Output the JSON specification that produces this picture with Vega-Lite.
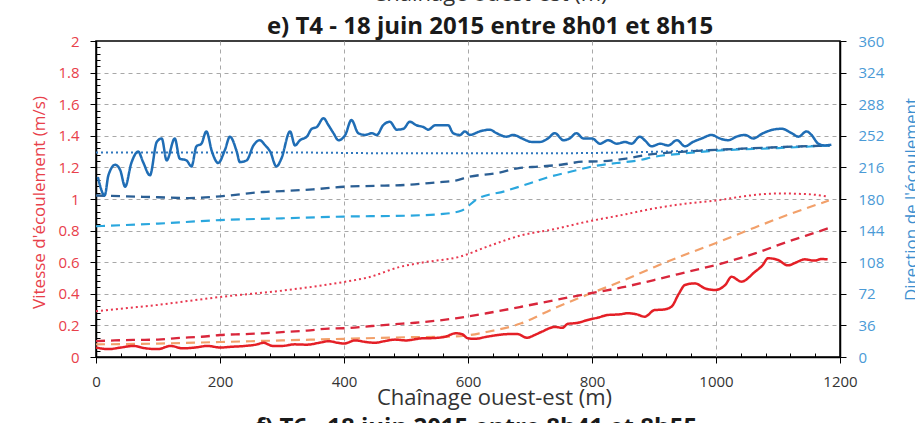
{
  "$schema": "https://vega.github.io/schema/vega-lite/v6.json",
  "width": 744,
  "height": 316,
  "autosize": "none",
  "padding": {"left": 96, "top": 41, "right": 75, "bottom": 66},
  "background": "white",
  "config": {"font": "Open Sans", "view": {"stroke": "black", "strokeWidth": 1.5}},
  "title": {"text": "Chaînage ouest-est (m)", "fontSize": 22, "fontWeight": "normal", "color": "#333333", "subtitle": "e) T4 - 18 juin 2015 entre 8h01 et 8h15", "subtitleFontSize": 24, "subtitleFontWeight": "bold", "subtitleColor": "#1a1a1a", "subtitleFont": "Open Sans", "subtitlePadding": 11, "anchor": "middle", "frame": "group", "dx": 22, "offset": -23, "baseline": "alphabetic"},
  "datasets": {
    "speed": [
      {"s": "vp", "x": 0, "v": 0.29}, {"s": "vp", "x": 50, "v": 0.31}, {"s": "vp", "x": 100, "v": 0.33}, {"s": "vp", "x": 150, "v": 0.355}, {"s": "vp", "x": 200, "v": 0.38}, {"s": "vp", "x": 250, "v": 0.4}, {"s": "vp", "x": 300, "v": 0.42}, {"s": "vp", "x": 350, "v": 0.445}, {"s": "vp", "x": 400, "v": 0.475}, {"s": "vp", "x": 440, "v": 0.505}, {"s": "vp", "x": 490, "v": 0.57}, {"s": "vp", "x": 530, "v": 0.6}, {"s": "vp", "x": 587, "v": 0.635}, {"s": "vp", "x": 632, "v": 0.7}, {"s": "vp", "x": 686, "v": 0.77}, {"s": "vp", "x": 740, "v": 0.81}, {"s": "vp", "x": 790, "v": 0.855}, {"s": "vp", "x": 850, "v": 0.9}, {"s": "vp", "x": 900, "v": 0.94}, {"s": "vp", "x": 950, "v": 0.97}, {"s": "vp", "x": 1000, "v": 0.99}, {"s": "vp", "x": 1050, "v": 1.02}, {"s": "vp", "x": 1100, "v": 1.035}, {"s": "vp", "x": 1150, "v": 1.03}, {"s": "vp", "x": 1180, "v": 1.015},
      {"s": "vo", "x": 0, "v": 0.08}, {"s": "vo", "x": 100, "v": 0.085}, {"s": "vo", "x": 200, "v": 0.095}, {"s": "vo", "x": 300, "v": 0.105}, {"s": "vo", "x": 400, "v": 0.115}, {"s": "vo", "x": 500, "v": 0.125}, {"s": "vo", "x": 580, "v": 0.13}, {"s": "vo", "x": 632, "v": 0.16}, {"s": "vo", "x": 686, "v": 0.213}, {"s": "vo", "x": 740, "v": 0.31}, {"s": "vo", "x": 793, "v": 0.395}, {"s": "vo", "x": 848, "v": 0.48}, {"s": "vo", "x": 901, "v": 0.57}, {"s": "vo", "x": 955, "v": 0.655}, {"s": "vo", "x": 1009, "v": 0.735}, {"s": "vo", "x": 1063, "v": 0.82}, {"s": "vo", "x": 1116, "v": 0.9}, {"s": "vo", "x": 1182, "v": 0.99},
      {"s": "vd", "x": 0, "v": 0.1}, {"s": "vd", "x": 30, "v": 0.105}, {"s": "vd", "x": 60, "v": 0.108}, {"s": "vd", "x": 100, "v": 0.11}, {"s": "vd", "x": 130, "v": 0.12}, {"s": "vd", "x": 170, "v": 0.128}, {"s": "vd", "x": 200, "v": 0.139}, {"s": "vd", "x": 240, "v": 0.145}, {"s": "vd", "x": 270, "v": 0.15}, {"s": "vd", "x": 310, "v": 0.16}, {"s": "vd", "x": 340, "v": 0.167}, {"s": "vd", "x": 375, "v": 0.18}, {"s": "vd", "x": 400, "v": 0.182}, {"s": "vd", "x": 445, "v": 0.196}, {"s": "vd", "x": 480, "v": 0.207}, {"s": "vd", "x": 515, "v": 0.217}, {"s": "vd", "x": 550, "v": 0.23}, {"s": "vd", "x": 580, "v": 0.245}, {"s": "vd", "x": 630, "v": 0.277}, {"s": "vd", "x": 686, "v": 0.318}, {"s": "vd", "x": 740, "v": 0.36}, {"s": "vd", "x": 793, "v": 0.4}, {"s": "vd", "x": 848, "v": 0.44}, {"s": "vd", "x": 900, "v": 0.487}, {"s": "vd", "x": 955, "v": 0.54}, {"s": "vd", "x": 1010, "v": 0.593}, {"s": "vd", "x": 1063, "v": 0.656}, {"s": "vd", "x": 1116, "v": 0.73}, {"s": "vd", "x": 1170, "v": 0.8}, {"s": "vd", "x": 1185, "v": 0.82},
      {"s": "vs", "x": 0, "v": 0.06}, {"s": "vs", "x": 20, "v": 0.05}, {"s": "vs", "x": 40, "v": 0.06}, {"s": "vs", "x": 60, "v": 0.07}, {"s": "vs", "x": 80, "v": 0.055}, {"s": "vs", "x": 100, "v": 0.05}, {"s": "vs", "x": 120, "v": 0.07}, {"s": "vs", "x": 140, "v": 0.055}, {"s": "vs", "x": 160, "v": 0.06}, {"s": "vs", "x": 180, "v": 0.07}, {"s": "vs", "x": 200, "v": 0.06}, {"s": "vs", "x": 220, "v": 0.065}, {"s": "vs", "x": 240, "v": 0.07}, {"s": "vs", "x": 260, "v": 0.08}, {"s": "vs", "x": 270, "v": 0.09}, {"s": "vs", "x": 285, "v": 0.07}, {"s": "vs", "x": 300, "v": 0.07}, {"s": "vs", "x": 320, "v": 0.08}, {"s": "vs", "x": 340, "v": 0.078}, {"s": "vs", "x": 360, "v": 0.09}, {"s": "vs", "x": 375, "v": 0.1}, {"s": "vs", "x": 390, "v": 0.09}, {"s": "vs", "x": 400, "v": 0.085}, {"s": "vs", "x": 418, "v": 0.105}, {"s": "vs", "x": 435, "v": 0.095}, {"s": "vs", "x": 450, "v": 0.09}, {"s": "vs", "x": 465, "v": 0.1}, {"s": "vs", "x": 482, "v": 0.11}, {"s": "vs", "x": 500, "v": 0.105}, {"s": "vs", "x": 525, "v": 0.118}, {"s": "vs", "x": 545, "v": 0.12}, {"s": "vs", "x": 563, "v": 0.128}, {"s": "vs", "x": 580, "v": 0.15}, {"s": "vs", "x": 590, "v": 0.145}, {"s": "vs", "x": 600, "v": 0.118}, {"s": "vs", "x": 611, "v": 0.115}, {"s": "vs", "x": 630, "v": 0.128}, {"s": "vs", "x": 648, "v": 0.139}, {"s": "vs", "x": 665, "v": 0.145}, {"s": "vs", "x": 680, "v": 0.145}, {"s": "vs", "x": 695, "v": 0.122}, {"s": "vs", "x": 708, "v": 0.14}, {"s": "vs", "x": 719, "v": 0.16}, {"s": "vs", "x": 740, "v": 0.19}, {"s": "vs", "x": 752, "v": 0.185}, {"s": "vs", "x": 761, "v": 0.21}, {"s": "vs", "x": 775, "v": 0.215}, {"s": "vs", "x": 793, "v": 0.234}, {"s": "vs", "x": 810, "v": 0.25}, {"s": "vs", "x": 826, "v": 0.266}, {"s": "vs", "x": 845, "v": 0.27}, {"s": "vs", "x": 858, "v": 0.277}, {"s": "vs", "x": 872, "v": 0.27}, {"s": "vs", "x": 885, "v": 0.255}, {"s": "vs", "x": 901, "v": 0.297}, {"s": "vs", "x": 915, "v": 0.3}, {"s": "vs", "x": 928, "v": 0.318}, {"s": "vs", "x": 940, "v": 0.4}, {"s": "vs", "x": 950, "v": 0.456}, {"s": "vs", "x": 966, "v": 0.466}, {"s": "vs", "x": 982, "v": 0.435}, {"s": "vs", "x": 998, "v": 0.424}, {"s": "vs", "x": 1015, "v": 0.456}, {"s": "vs", "x": 1025, "v": 0.508}, {"s": "vs", "x": 1041, "v": 0.477}, {"s": "vs", "x": 1063, "v": 0.54}, {"s": "vs", "x": 1075, "v": 0.58}, {"s": "vs", "x": 1084, "v": 0.625}, {"s": "vs", "x": 1100, "v": 0.614}, {"s": "vs", "x": 1116, "v": 0.58}, {"s": "vs", "x": 1130, "v": 0.6}, {"s": "vs", "x": 1143, "v": 0.618}, {"s": "vs", "x": 1159, "v": 0.61}, {"s": "vs", "x": 1170, "v": 0.62}, {"s": "vs", "x": 1180, "v": 0.618}
    ],
    "direction": [
      {"s": "dp", "x": 0, "d": 233}, {"s": "dp", "x": 300, "d": 233}, {"s": "dp", "x": 500, "d": 232}, {"s": "dp", "x": 700, "d": 232}, {"s": "dp", "x": 850, "d": 233}, {"s": "dp", "x": 1000, "d": 236}, {"s": "dp", "x": 1100, "d": 239}, {"s": "dp", "x": 1184, "d": 241},
      {"s": "dl", "x": 0, "d": 149}, {"s": "dl", "x": 100, "d": 152}, {"s": "dl", "x": 200, "d": 156}, {"s": "dl", "x": 300, "d": 158}, {"s": "dl", "x": 400, "d": 160}, {"s": "dl", "x": 500, "d": 161}, {"s": "dl", "x": 560, "d": 163}, {"s": "dl", "x": 590, "d": 167}, {"s": "dl", "x": 615, "d": 180}, {"s": "dl", "x": 660, "d": 189}, {"s": "dl", "x": 700, "d": 198}, {"s": "dl", "x": 730, "d": 205}, {"s": "dl", "x": 765, "d": 211}, {"s": "dl", "x": 800, "d": 217}, {"s": "dl", "x": 840, "d": 221}, {"s": "dl", "x": 875, "d": 224}, {"s": "dl", "x": 900, "d": 228}, {"s": "dl", "x": 950, "d": 232}, {"s": "dl", "x": 1000, "d": 235}, {"s": "dl", "x": 1100, "d": 238}, {"s": "dl", "x": 1184, "d": 241},
      {"s": "dd", "x": 0, "d": 184}, {"s": "dd", "x": 50, "d": 183}, {"s": "dd", "x": 100, "d": 182}, {"s": "dd", "x": 150, "d": 181}, {"s": "dd", "x": 200, "d": 183}, {"s": "dd", "x": 270, "d": 188}, {"s": "dd", "x": 300, "d": 189}, {"s": "dd", "x": 350, "d": 191}, {"s": "dd", "x": 400, "d": 194}, {"s": "dd", "x": 450, "d": 195}, {"s": "dd", "x": 500, "d": 196}, {"s": "dd", "x": 550, "d": 199}, {"s": "dd", "x": 580, "d": 201}, {"s": "dd", "x": 600, "d": 205}, {"s": "dd", "x": 650, "d": 210}, {"s": "dd", "x": 680, "d": 215}, {"s": "dd", "x": 715, "d": 217}, {"s": "dd", "x": 750, "d": 219}, {"s": "dd", "x": 785, "d": 222.5}, {"s": "dd", "x": 815, "d": 223}, {"s": "dd", "x": 855, "d": 226}, {"s": "dd", "x": 885, "d": 230}, {"s": "dd", "x": 950, "d": 234}, {"s": "dd", "x": 1000, "d": 236}, {"s": "dd", "x": 1100, "d": 239}, {"s": "dd", "x": 1184, "d": 241},
      {"s": "ds", "x": 3, "d": 205}, {"s": "ds", "x": 14, "d": 184}, {"s": "ds", "x": 20, "d": 207}, {"s": "ds", "x": 31, "d": 219}, {"s": "ds", "x": 39, "d": 213}, {"s": "ds", "x": 47, "d": 194}, {"s": "ds", "x": 57, "d": 221}, {"s": "ds", "x": 68, "d": 234}, {"s": "ds", "x": 76, "d": 222}, {"s": "ds", "x": 87, "d": 207}, {"s": "ds", "x": 98, "d": 245}, {"s": "ds", "x": 106, "d": 249}, {"s": "ds", "x": 114, "d": 224}, {"s": "ds", "x": 127, "d": 249}, {"s": "ds", "x": 135, "d": 226}, {"s": "ds", "x": 146, "d": 224}, {"s": "ds", "x": 154, "d": 217}, {"s": "ds", "x": 162, "d": 240}, {"s": "ds", "x": 170, "d": 243}, {"s": "ds", "x": 178, "d": 257}, {"s": "ds", "x": 187, "d": 234}, {"s": "ds", "x": 197, "d": 221}, {"s": "ds", "x": 208, "d": 236}, {"s": "ds", "x": 216, "d": 251}, {"s": "ds", "x": 227, "d": 234}, {"s": "ds", "x": 232, "d": 222}, {"s": "ds", "x": 243, "d": 224}, {"s": "ds", "x": 254, "d": 241}, {"s": "ds", "x": 264, "d": 247}, {"s": "ds", "x": 273, "d": 241}, {"s": "ds", "x": 281, "d": 234}, {"s": "ds", "x": 291, "d": 217}, {"s": "ds", "x": 299, "d": 226}, {"s": "ds", "x": 313, "d": 257}, {"s": "ds", "x": 321, "d": 241}, {"s": "ds", "x": 329, "d": 247}, {"s": "ds", "x": 340, "d": 251}, {"s": "ds", "x": 348, "d": 260}, {"s": "ds", "x": 356, "d": 262}, {"s": "ds", "x": 367, "d": 272}, {"s": "ds", "x": 375, "d": 264}, {"s": "ds", "x": 383, "d": 255}, {"s": "ds", "x": 391, "d": 247}, {"s": "ds", "x": 402, "d": 253}, {"s": "ds", "x": 412, "d": 270}, {"s": "ds", "x": 423, "d": 255}, {"s": "ds", "x": 434, "d": 253}, {"s": "ds", "x": 445, "d": 255}, {"s": "ds", "x": 453, "d": 253}, {"s": "ds", "x": 463, "d": 264}, {"s": "ds", "x": 474, "d": 268}, {"s": "ds", "x": 485, "d": 259}, {"s": "ds", "x": 496, "d": 260}, {"s": "ds", "x": 506, "d": 268}, {"s": "ds", "x": 517, "d": 264}, {"s": "ds", "x": 528, "d": 262}, {"s": "ds", "x": 536, "d": 259}, {"s": "ds", "x": 547, "d": 264}, {"s": "ds", "x": 558, "d": 264}, {"s": "ds", "x": 568, "d": 264}, {"s": "ds", "x": 576, "d": 255}, {"s": "ds", "x": 587, "d": 253}, {"s": "ds", "x": 595, "d": 257}, {"s": "ds", "x": 603, "d": 253}, {"s": "ds", "x": 619, "d": 257}, {"s": "ds", "x": 635, "d": 259}, {"s": "ds", "x": 646, "d": 255}, {"s": "ds", "x": 662, "d": 251}, {"s": "ds", "x": 673, "d": 253}, {"s": "ds", "x": 687, "d": 249}, {"s": "ds", "x": 703, "d": 245}, {"s": "ds", "x": 716, "d": 245}, {"s": "ds", "x": 729, "d": 249}, {"s": "ds", "x": 740, "d": 255}, {"s": "ds", "x": 754, "d": 247}, {"s": "ds", "x": 764, "d": 249}, {"s": "ds", "x": 775, "d": 255}, {"s": "ds", "x": 786, "d": 249}, {"s": "ds", "x": 800, "d": 249}, {"s": "ds", "x": 813, "d": 243}, {"s": "ds", "x": 826, "d": 247}, {"s": "ds", "x": 840, "d": 243}, {"s": "ds", "x": 853, "d": 245}, {"s": "ds", "x": 864, "d": 243}, {"s": "ds", "x": 877, "d": 251}, {"s": "ds", "x": 885, "d": 247}, {"s": "ds", "x": 896, "d": 240}, {"s": "ds", "x": 910, "d": 243}, {"s": "ds", "x": 923, "d": 241}, {"s": "ds", "x": 937, "d": 247}, {"s": "ds", "x": 950, "d": 240}, {"s": "ds", "x": 963, "d": 245}, {"s": "ds", "x": 977, "d": 249}, {"s": "ds", "x": 993, "d": 253}, {"s": "ds", "x": 1006, "d": 249}, {"s": "ds", "x": 1020, "d": 247}, {"s": "ds", "x": 1033, "d": 251}, {"s": "ds", "x": 1047, "d": 253}, {"s": "ds", "x": 1060, "d": 249}, {"s": "ds", "x": 1076, "d": 255}, {"s": "ds", "x": 1092, "d": 259}, {"s": "ds", "x": 1106, "d": 260}, {"s": "ds", "x": 1122, "d": 255}, {"s": "ds", "x": 1133, "d": 251}, {"s": "ds", "x": 1146, "d": 257}, {"s": "ds", "x": 1154, "d": 253}, {"s": "ds", "x": 1165, "d": 243}, {"s": "ds", "x": 1176, "d": 241}, {"s": "ds", "x": 1186, "d": 242}
    ]
  },
  "layer": [
    {
      "data": {"name": "speed"},
      "mark": {"type": "line", "interpolate": "monotone"},
      "encoding": {
        "x": {
          "field": "x", "type": "quantitative",
          "scale": {"domain": [0, 1200], "nice": false},
          "axis": {
            "values": [0, 40, 80, 120, 160, 200, 240, 280, 320, 360, 400, 440, 480, 520, 560, 600, 640, 680, 720, 760, 800, 840, 880, 920, 960, 1000, 1040, 1080, 1120, 1160, 1200],
            "labelExpr": "datum.value % 200 === 0 ? format(datum.value, 'd') : ''",
            "labelFontSize": 15, "labelColor": "#333333", "labelPadding": 11, "labelFlush": false,
            "tickSize": {"condition": {"test": "datum.value % 200 === 0", "value": 6}, "value": -4},
            "tickColor": "black", "domainColor": "black", "domainWidth": 1.5,
            "grid": true, "gridColor": "#a8a8a8", "gridDash": [4, 4],
            "gridOpacity": {"condition": {"test": "datum.value % 200 === 0 && datum.value > 0 && datum.value < 1200", "value": 1}, "value": 0},
            "title": "Chaînage ouest-est (m)", "titleFontSize": 22, "titleFontWeight": "normal", "titleColor": "#333333",
            "titleX": 398, "titleY": 47, "titleBaseline": "alphabetic"
          }
        },
        "y": {
          "field": "v", "type": "quantitative",
          "scale": {"domain": [0, 2], "nice": false},
          "axis": {
            "values": [0, 0.04, 0.08, 0.12, 0.16, 0.2, 0.24, 0.28, 0.32, 0.36, 0.4, 0.44, 0.48, 0.52, 0.56, 0.6, 0.64, 0.68, 0.72, 0.76, 0.8, 0.84, 0.88, 0.92, 0.96, 1, 1.04, 1.08, 1.12, 1.16, 1.2, 1.24, 1.28, 1.32, 1.36, 1.4, 1.44, 1.48, 1.52, 1.56, 1.6, 1.64, 1.68, 1.72, 1.76, 1.8, 1.84, 1.88, 1.92, 1.96, 2],
            "labelExpr": "abs(datum.value * 5 - round(datum.value * 5)) < 0.001 ? format(datum.value, '.1~f') : ''",
            "labelFontSize": 15, "labelColor": "#e8404a", "labelPadding": 11,
            "tickSize": {"condition": {"test": "abs(datum.value * 5 - round(datum.value * 5)) < 0.001", "value": 6}, "value": -4},
            "tickColor": "black", "domainColor": "black", "domainWidth": 1.5,
            "grid": true, "gridColor": "#a8a8a8", "gridDash": [4, 4],
            "gridOpacity": {"condition": {"test": "abs(datum.value * 5 - round(datum.value * 5)) < 0.001 && datum.value > 0.1 && datum.value < 1.9", "value": 1}, "value": 0},
            "title": "Vitesse d'écoulement (m/s)", "titleFontSize": 17, "titleFontWeight": "normal", "titleColor": "#e8404a",
            "titleX": -57, "titleY": 161, "titleBaseline": "middle", "titleAngle": -90
          }
        },
        "color": {"field": "s", "type": "nominal", "scale": {"domain": ["vp", "vo", "vd", "vs"], "range": ["#e8384f", "#f2a06a", "#d9263b", "#e41f26"]}, "legend": null},
        "strokeDash": {"field": "s", "type": "nominal", "scale": {"domain": ["vp", "vo", "vd", "vs"], "range": [[2, 3], [9, 6], [9, 6], [1, 0]]}, "legend": null},
        "strokeWidth": {"field": "s", "type": "nominal", "scale": {"domain": ["vp", "vo", "vd", "vs"], "range": [2, 2.5, 2.5, 2.6]}, "legend": null}
      }
    },
    {
      "data": {"name": "direction"},
      "mark": {"type": "line", "interpolate": "monotone"},
      "encoding": {
        "x": {
          "field": "x", "type": "quantitative",
          "scale": {"domain": [0, 1200], "nice": false},
          "axis": {
            "orient": "bottom", "labels": false, "ticks": false, "domain": false, "grid": false,
            "title": "f) T6 - 18 juin 2015 entre 8h41 et 8h55", "titleFontSize": 24, "titleFontWeight": "bold", "titleColor": "#1a1a1a",
            "titleX": 380, "titleY": 77, "titleBaseline": "alphabetic"
          }
        },
        "y": {
          "field": "d", "type": "quantitative",
          "scale": {"domain": [0, 360], "nice": false},
          "axis": {
            "orient": "right",
            "values": [0, 36, 72, 108, 144, 180, 216, 252, 288, 324, 360],
            "labelFontSize": 15, "labelColor": "#4a9ad6", "labelPadding": 12,
            "tickSize": 6, "tickColor": "black", "domainColor": "black", "domainWidth": 1.5, "grid": false,
            "title": "Direction de l'écoulement", "titleFontSize": 17, "titleFontWeight": "normal", "titleColor": "#3d8fd0",
            "titleX": 71, "titleY": 158, "titleBaseline": "middle", "titleAngle": -90
          }
        },
        "color": {"field": "s", "type": "nominal", "scale": {"domain": ["dp", "dl", "dd", "ds"], "range": ["#2f77bd", "#2aa7de", "#2b5f94", "#1f6db5"]}, "legend": null},
        "strokeDash": {"field": "s", "type": "nominal", "scale": {"domain": ["dp", "dl", "dd", "ds"], "range": [[2, 3], [9, 6], [9, 6], [1, 0]]}, "legend": null},
        "strokeWidth": {"field": "s", "type": "nominal", "scale": {"domain": ["dp", "dl", "dd", "ds"], "range": [2, 2.5, 2.5, 2.8]}, "legend": null}
      }
    }
  ],
  "resolve": {"scale": {"y": "independent", "color": "independent", "strokeDash": "independent", "strokeWidth": "independent"}, "axis": {"x": "independent"}}
}
